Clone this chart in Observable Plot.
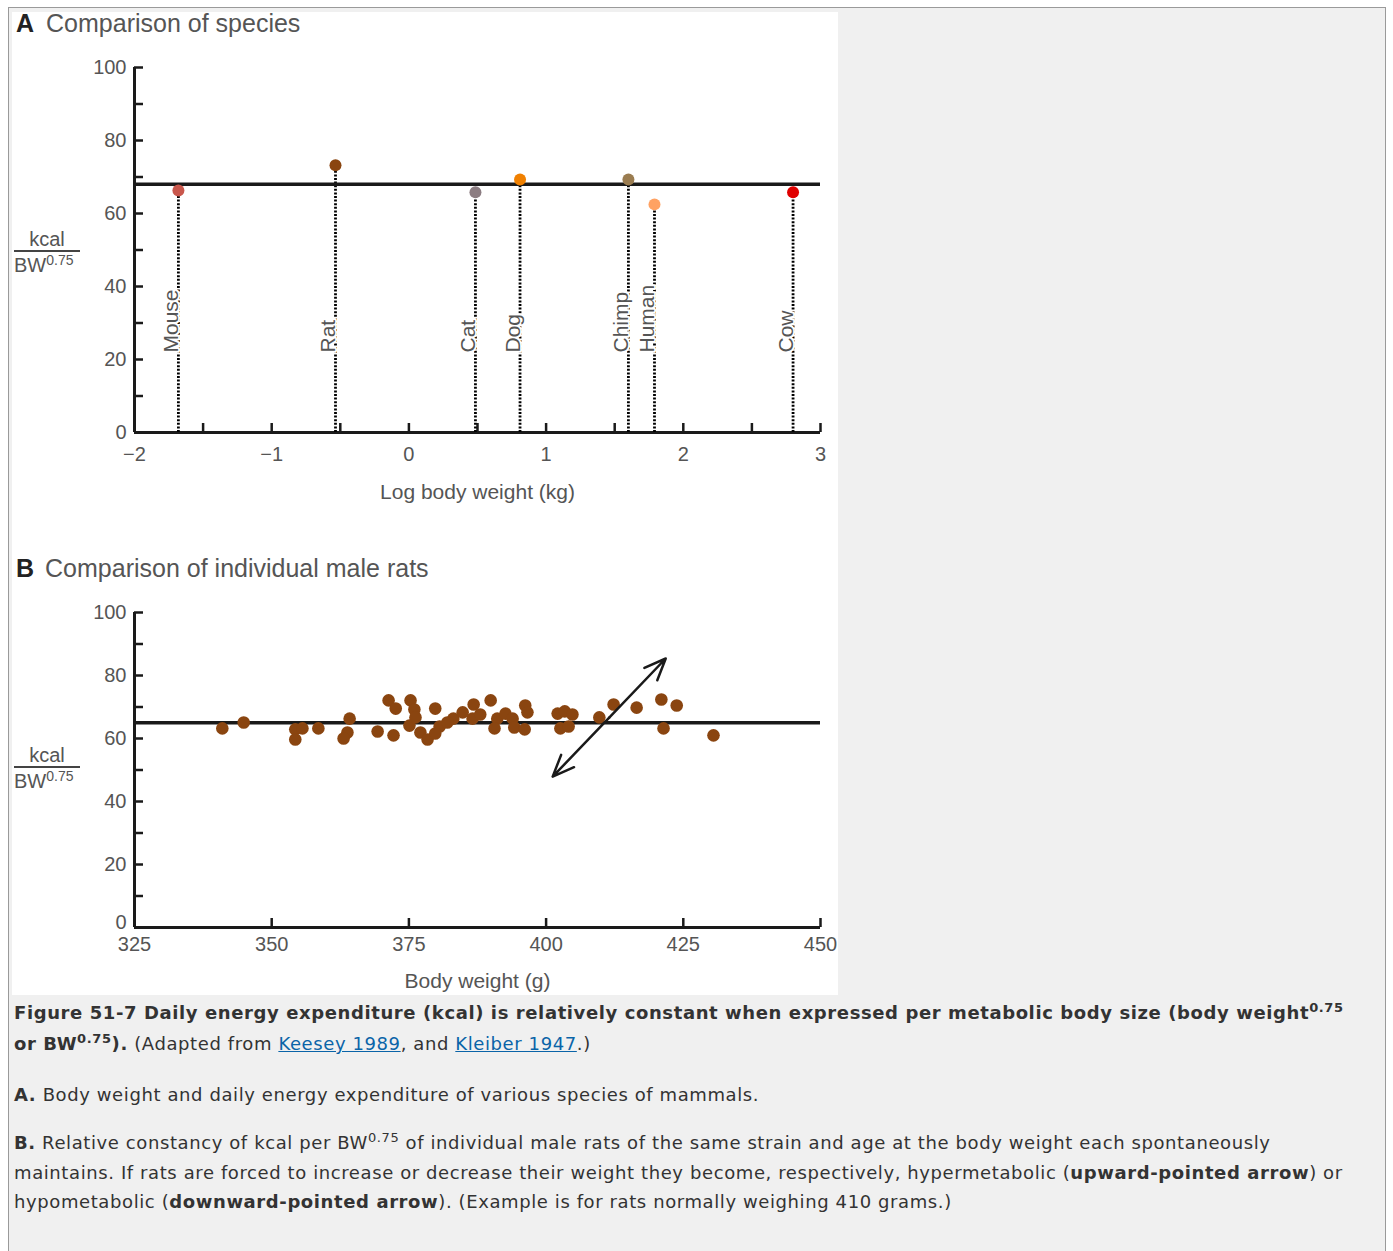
<!DOCTYPE html>
<html><head><meta charset="utf-8">
<script src="https://cdn.jsdelivr.net/npm/d3@7"></script>
<script src="https://cdn.jsdelivr.net/npm/@observablehq/plot@0.6"></script>
<style>
body{margin:0;background:#fff;width:1393px;height:1251px;overflow:hidden;position:relative;font-family:"Liberation Sans",Arial,sans-serif;}
#box{position:absolute;left:8px;top:7px;width:1376px;height:1300px;border:1px solid #9a9a9a;background:#f0f0f0;}
#fig{position:absolute;left:12px;top:12px;width:826px;height:983px;background:#fff;}
.ptitle{position:absolute;left:16px;font-size:25px;line-height:26px;color:#555;white-space:nowrap;}
.ptitle b{color:#222;}
.ylab{position:absolute;left:14px;width:66px;color:#555;font-size:20px;}
.ylab .num{position:absolute;left:0;width:66px;text-align:center;line-height:20px;top:0;}
.ylab .bar{position:absolute;left:0;width:66px;height:0;border-top:2px solid #444;top:21px;}
.ylab .den{position:absolute;left:0;top:26px;line-height:20px;white-space:nowrap;}
.ylab .den sup{font-size:14px;vertical-align:7px;line-height:0;}
.chart{position:absolute;left:12px;}
.cap{position:absolute;left:14px;font-family:"DejaVu Sans",Verdana,sans-serif;font-size:18px;letter-spacing:0.6px;line-height:20px;color:#333;white-space:nowrap;}
.cap sup{font-size:13px;vertical-align:7px;line-height:0;}
.cap a{color:#0a64a8;text-decoration:underline;}
</style></head>
<body>
<div id="box"></div>
<div id="fig"></div>
<div class="ptitle" style="top:10px"><b>A</b><span style="margin-left:12px">Comparison of species</span></div>
<div class="ptitle" style="top:555px"><b>B</b><span style="margin-left:11px">Comparison of individual male rats</span></div>
<div class="ylab" style="top:229px"><div class="num">kcal</div><div class="bar"></div><div class="den">BW<sup>0.75</sup></div></div>
<div class="ylab" style="top:745px"><div class="num">kcal</div><div class="bar"></div><div class="den">BW<sup>0.75</sup></div></div>
<div id="chartA" class="chart" style="top:40px"></div>
<div id="chartB" class="chart" style="top:590px"></div>
<div class="cap" style="top:1003px"><b>Figure 51-7 Daily energy expenditure (kcal) is relatively constant when expressed per metabolic body size (body weight<sup>0.75</sup></b></div>
<div class="cap" style="top:1034px"><b>or BW<sup>0.75</sup>).</b> (Adapted from <a>Keesey 1989</a>, and <a>Kleiber 1947</a>.)</div>
<div class="cap" style="top:1085px"><b>A.</b> Body weight and daily energy expenditure of various species of mammals.</div>
<div class="cap" style="top:1133px"><b>B.</b> Relative constancy of kcal per BW<sup>0.75</sup> of individual male rats of the same strain and age at the body weight each spontaneously</div>
<div class="cap" style="top:1163px">maintains. If rats are forced to increase or decrease their weight they become, respectively, hypermetabolic (<b>upward-pointed arrow</b>) or</div>
<div class="cap" style="top:1192px">hypometabolic (<b>downward-pointed arrow</b>). (Example is for rats normally weighing 410 grams.)</div>
<script>
// ---- Panel A data ----
const speciesNames = ["Mouse","Rat","Cat","Dog","Chimp","Human","Cow"];
const speciesLogWeight = [-1.68,-0.535,0.485,0.81,1.60,1.79,2.80];
const speciesKcal = [66.3,73.2,65.8,69.3,69.3,62.5,65.8];
const speciesColors = ["#c9574c","#8a4510","#8c7d82","#f08000","#9a7c50","#ffa263","#e00000"];
const speciesMean = 68;
const xDomainA = [-2,3];
const xTicksA = [-2,-1,0,1,2,3];
const xMinorTicksA = [-1.5,-1,-0.5,0,0.5,1,1.5,2,2.5,3];
const yDomain = [0,100];
const yLabelTicks = [0,20,40,60,80,100];
const yMinorTicks = [10,20,30,40,50,60,70,80,90,100];
const xLabelA = "Log body weight (kg)";

// ---- Panel B data ----
const ratWeight = [341.0,344.9,354.3,354.3,355.6,358.5,364.2,363.8,363.1,369.3,371.3,372.6,372.2,375.3,376.0,375.1,377.1,378.4,379.8,380.6,379.8,383.1,384.8,386.8,386.6,388.0,389.9,391.1,390.6,392.6,393.9,394.2,396.2,396.6,396.1,402.1,403.4,404.8,402.6,404.1,409.7,412.3,416.5,421.0,423.8,421.4,430.5,376.2,382.0];
const ratKcal = [63.2,65.1,62.9,59.7,63.2,63.2,66.3,61.9,60.0,62.2,72.1,69.5,61.0,72.1,69.2,64.1,61.9,59.7,69.5,63.8,61.6,66.3,68.3,70.8,66.3,67.6,72.1,66.3,63.2,67.9,66.3,63.5,70.5,68.3,62.9,67.9,68.6,67.6,63.2,63.8,66.7,70.8,69.8,72.4,70.5,63.2,61.0,66.7,65.1];
const ratMean = 65;
const arrowEndsWeight = [401.2, 421.8];
const arrowEndsKcal = [47.9, 85.4];
const xDomainB = [325,450];
const xTicksB = [325,350,375,400,425,450];
const xMinorTicksB = [350,375,400,425,450];
const xLabelB = "Body weight (g)";

const ink = "#1a1a1a";
const txt = "#555";
const species = speciesNames.map((n,i)=>({name:n, logw:speciesLogWeight[i], kcal:speciesKcal[i], color:speciesColors[i]}));
const rats = ratWeight.map((w,i)=>({w, kcal:ratKcal[i]}));
const mid = {w:(arrowEndsWeight[0]+arrowEndsWeight[1])/2, k:(arrowEndsKcal[0]+arrowEndsKcal[1])/2};
const arrows = arrowEndsWeight.map((w,i)=>({x1:mid.w, y1:mid.k, x2:w, y2:arrowEndsKcal[i]}));

const style = {background:"transparent", fontFamily:"'Liberation Sans', Arial, sans-serif", fontSize:"20px", color:txt, overflow:"visible"};
const fmt = d3.format("d");

function axes(xDom, xMinor, xLab, xLabel, labelDy, xPad, zeroDy){
  return [
    Plot.axisY({ticks:yMinorTicks, tickSize:-9, fill:"none", stroke:ink, strokeWidth:2.5, label:null}),
    Plot.axisY({ticks:yLabelTicks.slice(1), tickSize:0, tickPadding:8, fill:txt, label:null, fontSize:20}),
    Plot.axisY({ticks:yLabelTicks.slice(0,1), tickSize:0, tickPadding:8, fill:txt, label:null, fontSize:20, dy:zeroDy}),
    Plot.axisX({ticks:xMinor, tickSize:-9, fill:"none", stroke:ink, strokeWidth:2.5, label:null}),
    Plot.axisX({ticks:xLab, tickSize:0, tickPadding:xPad, tickFormat:fmt, fill:txt, label:null, fontSize:20}),
    Plot.ruleX([xDom[0]], {stroke:ink, strokeWidth:3}),
    Plot.ruleY([yDomain[0]], {stroke:ink, strokeWidth:3}),
    Plot.text([xLabel], {frameAnchor:"bottom", dy:labelDy, fill:txt, fontSize:21})
  ];
}

const chartA = Plot.plot({
  width:826, height:470, marginLeft:122, marginRight:18, marginTop:27, marginBottom:78,
  x:{domain:xDomainA, label:null}, y:{domain:yDomain, label:null},
  style,
  marks:[
    ...axes(xDomainA, xMinorTicksA, xTicksA, xLabelA, 66, 14, 0),
    Plot.ruleX(species, {x:"logw", y1:0, y2:"kcal", stroke:"#000", strokeWidth:2.8, strokeDasharray:"2,1.6"}),
    Plot.text(species, {x:"logw", frameAnchor:"bottom", dy:-80, text:"name", rotate:-90, textAnchor:"start", fill:txt, stroke:"white", strokeWidth:4, fontSize:21}),
    Plot.ruleY([speciesMean], {stroke:ink, strokeWidth:3.5}),
    Plot.dot(species, {x:"logw", y:"kcal", fill:"color", r:6})
  ]
});
document.getElementById("chartA").appendChild(chartA);

const chartB = Plot.plot({
  width:826, height:405, marginLeft:122, marginRight:18, marginTop:22, marginBottom:68,
  x:{domain:xDomainB, label:null}, y:{domain:yDomain, label:null},
  style,
  marks:[
    ...axes(xDomainB, xMinorTicksB, xTicksB, xLabelB, 60, 9, -5),
    Plot.ruleY([ratMean], {stroke:ink, strokeWidth:3.5}),
    Plot.dot(rats, {x:"w", y:"kcal", fill:"#8a4510", r:6.3}),
    Plot.arrow(arrows, {x1:"x1", y1:"y1", x2:"x2", y2:"y2", stroke:ink, strokeWidth:2.5, headLength:14, headAngle:45})
  ]
});
document.getElementById("chartB").appendChild(chartB);
</script>
</body></html>
